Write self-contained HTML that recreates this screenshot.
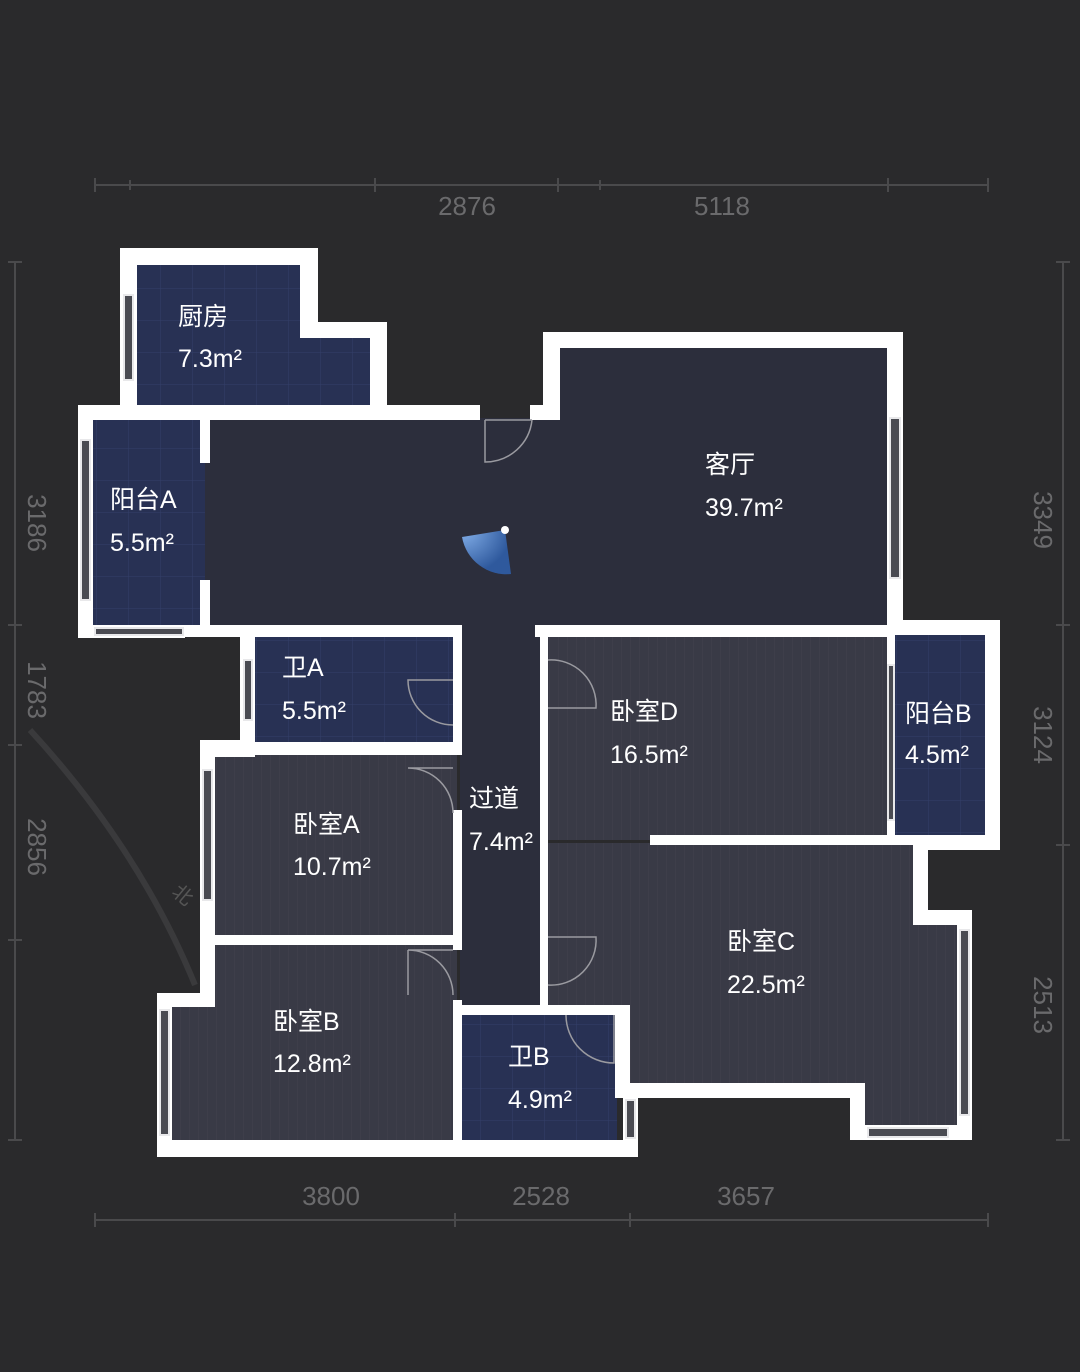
<!DOCTYPE html>
<html><head><meta charset="utf-8"><style>
html,body{margin:0;padding:0;background:#2a2a2c;}
svg{display:block}
text{font-family:"Liberation Sans","Noto Sans CJK SC",sans-serif;}
</style></head><body>
<svg width="1080" height="1372" viewBox="0 0 1080 1372" xmlns="http://www.w3.org/2000/svg">
<defs>
<pattern id="tile" width="32" height="32" patternUnits="userSpaceOnUse">
<rect width="32" height="32" fill="#283154"/>
<path d="M0 0H32M0 0V32" stroke="#34406a" stroke-width="1"/>
</pattern>
<pattern id="wood" width="9" height="9" patternUnits="userSpaceOnUse">
<rect width="9" height="9" fill="#393a46"/>
<path d="M0 0V9" stroke="#42434f" stroke-width="1"/>
</pattern>
<radialGradient id="fan" cx="0" cy="0" r="1">
<stop offset="0" stop-color="#8fc0ff"/><stop offset="1" stop-color="#2f5ea8"/>
</radialGradient>
</defs>
<rect width="1080" height="1372" fill="#2a2a2c"/>
<path d="M30 730 Q140 850 195 985" stroke="#3a3a3c" stroke-width="6" fill="none"/>
<text x="172" y="900" fill="#555" font-size="20" transform="rotate(40 180 895)">北</text>

<g stroke="#4a4a4c" stroke-width="2" fill="none">
<path d="M95 185H988M95 178V192M375 178V192M558 178V192M888 178V192M988 178V192M130 180V190M600 180V190"/>
<path d="M95 1220H988M95 1213V1227M455 1213V1227M630 1213V1227M988 1213V1227"/>
<path d="M15 262V1140M8 262H22M8 625H22M8 745H22M8 940H22M8 1140H22"/>
<path d="M1063 262V1140M1056 262H1070M1056 625H1070M1056 845H1070M1056 1140H1070"/>
</g>
<g fill="#6a6a6c" font-size="26">
<text x="467" y="215" text-anchor="middle">2876</text>
<text x="722" y="215" text-anchor="middle">5118</text>
<text x="331" y="1205" text-anchor="middle">3800</text>
<text x="541" y="1205" text-anchor="middle">2528</text>
<text x="746" y="1205" text-anchor="middle">3657</text>
<text transform="translate(28 523) rotate(90)" text-anchor="middle">3186</text>
<text transform="translate(28 690) rotate(90)" text-anchor="middle">1783</text>
<text transform="translate(28 847) rotate(90)" text-anchor="middle">2856</text>
<text transform="translate(1034 520) rotate(90)" text-anchor="middle">3349</text>
<text transform="translate(1034 735) rotate(90)" text-anchor="middle">3124</text>
<text transform="translate(1034 1005) rotate(90)" text-anchor="middle">2513</text>
</g>

<rect x="137" y="265" width="170" height="145" fill="url(#tile)"/>
<rect x="300" y="338" width="72" height="72" fill="url(#tile)"/>
<rect x="93" y="420" width="115" height="207" fill="url(#tile)"/>
<rect x="205" y="418" width="684" height="207" fill="#2c2e3c"/>
<rect x="558" y="346" width="331" height="75" fill="#2c2e3c"/>
<rect x="255" y="637" width="200" height="107" fill="url(#tile)"/>
<rect x="460" y="625" width="84" height="385" fill="#2c2e3c"/>
<rect x="546" y="635" width="343" height="205" fill="url(#wood)"/>
<rect x="895" y="635" width="92" height="200" fill="url(#tile)"/>
<rect x="213" y="755" width="244" height="182" fill="url(#wood)"/>
<rect x="213" y="943" width="244" height="200" fill="url(#wood)"/>
<rect x="170" y="1005" width="50" height="138" fill="url(#wood)"/>
<rect x="546" y="843" width="370" height="165" fill="url(#wood)"/>
<rect x="628" y="843" width="288" height="245" fill="url(#wood)"/>
<rect x="913" y="923" width="50" height="210" fill="url(#wood)"/>
<rect x="860" y="1085" width="100" height="48" fill="url(#wood)"/>
<rect x="462" y="1013" width="155" height="128" fill="url(#tile)"/>

<g fill="#ffffff">
<rect x="157" y="1140" width="481" height="17"/>
<rect x="157" y="993" width="15" height="164"/>
<rect x="157" y="993" width="58" height="14"/>
<rect x="200" y="740" width="15" height="265"/>
<rect x="200" y="740" width="55" height="17"/>
<rect x="215" y="935" width="245" height="10"/>
<rect x="453" y="625" width="9" height="130"/>
<rect x="453" y="810" width="9" height="140"/>
<rect x="453" y="1000" width="9" height="145"/>
<rect x="185" y="625" width="277" height="12"/>
<rect x="240" y="637" width="15" height="108"/>
<rect x="255" y="742" width="205" height="13"/>
<rect x="78" y="405" width="15" height="233"/>
<rect x="78" y="625" width="107" height="13"/>
<rect x="120" y="248" width="17" height="162"/>
<rect x="120" y="248" width="198" height="17"/>
<rect x="300" y="248" width="18" height="90"/>
<rect x="300" y="322" width="87" height="16"/>
<rect x="370" y="322" width="17" height="98"/>
<rect x="78" y="405" width="402" height="15"/>
<rect x="530" y="405" width="30" height="15"/>
<rect x="543" y="332" width="17" height="88"/>
<rect x="543" y="332" width="360" height="16"/>
<rect x="887" y="332" width="16" height="300"/>
<rect x="887" y="620" width="113" height="15"/>
<rect x="535" y="625" width="354" height="12"/>
<rect x="540" y="625" width="8" height="385"/>
<rect x="650" y="835" width="263" height="10"/>
<rect x="887" y="635" width="8" height="210"/>
<rect x="985" y="620" width="15" height="230"/>
<rect x="913" y="835" width="87" height="15"/>
<rect x="913" y="845" width="15" height="80"/>
<rect x="913" y="910" width="59" height="15"/>
<rect x="957" y="910" width="15" height="230"/>
<rect x="850" y="1125" width="122" height="15"/>
<rect x="850" y="1085" width="15" height="55"/>
<rect x="630" y="1083" width="235" height="15"/>
<rect x="615" y="1008" width="15" height="90"/>
<rect x="623" y="1090" width="15" height="67"/>
<rect x="462" y="1005" width="168" height="10"/>
<rect x="200" y="418" width="10" height="45"/>
<rect x="200" y="580" width="10" height="50"/>
</g>
<g fill="#4a4b52" stroke="#e8e8ea" stroke-width="2">
<rect x="890" y="418" width="10" height="160"/>
<rect x="124" y="295" width="9" height="85"/>
<rect x="81" y="440" width="9" height="160"/>
<rect x="95" y="628" width="88" height="7"/>
<rect x="244" y="660" width="8" height="60"/>
<rect x="203" y="770" width="9" height="130"/>
<rect x="160" y="1010" width="9" height="125"/>
<rect x="960" y="930" width="9" height="185"/>
<rect x="868" y="1128" width="80" height="9"/>
<rect x="626" y="1100" width="9" height="38"/>
<rect x="888" y="665" width="6" height="155"/>
</g>
<g stroke="#9a9aa0" stroke-width="1.5" fill="none">
<path d="M485 420V462A47 47 0 0 0 532 420"/>
<path d="M453 680H408A45 45 0 0 0 453 725"/>
<path d="M453 768H408A45 45 0 0 1 453 813"/>
<path d="M453 950H408A45 45 0 0 1 453 995 M408 950V995"/>
<path d="M548 660A45 45 0 0 1 596 708H548"/>
<path d="M548 937H596A45 45 0 0 1 548 985"/>
<path d="M566 1015A48 48 0 0 0 614 1063V1015"/>
<path d="M485 420H532"/>
</g>
<path d="M505 530 L462 537 A45 45 0 0 0 511 574 Z" fill="url(#fan)" opacity="0.9"/>
<circle cx="505" cy="530" r="4" fill="#fff"/>

<g fill="#ffffff" font-size="25">
<text x="178" y="325">厨房</text><text x="178" y="367">7.3m²</text>
<text x="110" y="508">阳台A</text><text x="110" y="551">5.5m²</text>
<text x="705" y="473">客厅</text><text x="705" y="516">39.7m²</text>
<text x="282" y="676">卫A</text><text x="282" y="719">5.5m²</text>
<text x="610" y="720">卧室D</text><text x="610" y="763">16.5m²</text>
<text x="905" y="722">阳台B</text><text x="905" y="763">4.5m²</text>
<text x="469" y="807">过道</text><text x="469" y="850">7.4m²</text>
<text x="293" y="833">卧室A</text><text x="293" y="875">10.7m²</text>
<text x="727" y="950">卧室C</text><text x="727" y="993">22.5m²</text>
<text x="273" y="1030">卧室B</text><text x="273" y="1072">12.8m²</text>
<text x="508" y="1065">卫B</text><text x="508" y="1108">4.9m²</text>
</g>
</svg>
</body></html>
